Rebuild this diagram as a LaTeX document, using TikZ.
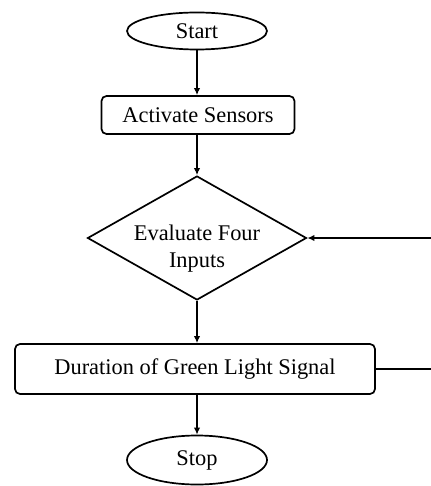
\documentclass[tikz,border=0pt]{standalone}
\usepackage{fontspec}
\setmainfont{Liberation Serif}
\usetikzlibrary{shapes.geometric,arrows.meta}

\begin{document}
\begin{tikzpicture}[
  x=0.5pt, y=-0.5pt,
  font=\fontsize{11.2}{13.5}\selectfont,
  every node/.style={line width=0.85pt},
  term/.style={draw, ellipse, inner sep=0pt, minimum width=70pt},
  proc/.style={draw, rounded corners=2.5pt, inner sep=0pt},
  decide/.style={draw, diamond, inner sep=0pt, aspect=1.77,
    minimum width=109.5pt, minimum height=62pt},
  arrow/.style={line width=0.8pt, -{Latex[length=3.5pt,width=3.2pt]}}
]
\useasboundingbox (0,0) rectangle (431,486);

\node[term, minimum height=18.5pt] (start) at (197,31) {Start};
\node[proc, minimum width=96.5pt, minimum height=19pt] (sensors) at (198,115) {Activate Sensors};
\node[decide, label={[align=center, yshift=-5.5pt]center:Evaluate Four\\Inputs}] (eval) at (197,238) {};
\node[proc, minimum width=180pt, minimum height=25pt] (green) at (195,369) {Duration of Green Light Signal};
\node[term, minimum height=24.5pt] (stop) at (197,460) {Stop};

\draw[arrow] (start) -- (start |- sensors.north);
\draw[arrow] (sensors.south -| start) -- (eval);
\draw[arrow] (eval.south) -- (eval.south |- green.north);
\draw[arrow] (green.south -| stop) -- (stop);

% feedback from the signal box back into the decision
\draw[arrow] (green.east) -- (440,369) |- (eval.east);
\end{tikzpicture}
\end{document}
